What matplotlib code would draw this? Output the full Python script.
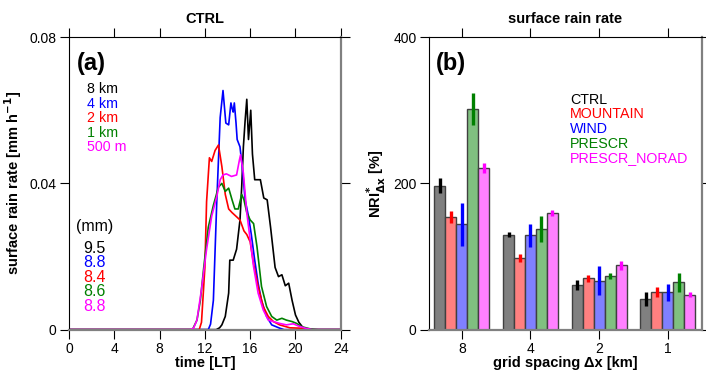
import matplotlib.pyplot as plt
import numpy as np

plt.rcParams['font.family'] = ['Liberation Sans', 'DejaVu Sans']

# ---- panel (a): surface rain rate time series
t_8km = [0, 13.0, 13.3, 13.5, 13.8, 14.1, 14.2, 14.5, 14.8, 15.1, 15.25, 15.4, 15.55, 15.7,
         15.85, 16.05, 16.2, 16.4, 16.9, 17.2, 17.5, 17.8, 18.2, 18.5, 18.8, 19.1, 19.4,
         19.7, 20.0, 20.3, 20.7, 21.5, 24]
r_8km = [0, 0, 0.0005, 0.0013, 0.0036, 0.010, 0.019, 0.019, 0.022, 0.030, 0.039, 0.050, 0.057, 0.063,
         0.052, 0.060, 0.048, 0.041, 0.041, 0.036, 0.0355, 0.028, 0.017, 0.0145, 0.015, 0.012, 0.0127,
         0.008, 0.004, 0.002, 0.0004, 0, 0]

t_4km = [0, 12.3, 12.5, 12.75, 13.05, 13.35, 13.6, 13.85, 14.1, 14.3, 14.4, 14.5, 14.6, 14.75, 14.85,
         15.1, 15.35, 15.55, 15.85, 16.1, 16.4, 16.7, 17.0, 17.45, 17.9, 18.6, 19.0, 24]
r_4km = [0, 0, 0.0015, 0.008, 0.035, 0.058, 0.0654, 0.0565, 0.056, 0.062, 0.0606, 0.0595, 0.062, 0.0565, 0.052,
         0.050, 0.043, 0.0355, 0.031, 0.026, 0.019, 0.0127, 0.008, 0.0036, 0.0013, 0.0004, 0, 0]

t_2km = [0, 11.5, 11.7, 12.0, 12.15, 12.4, 12.6, 12.9, 13.2, 13.5, 13.8, 14.1, 14.4, 14.75, 15.1,
         15.45, 15.7, 16.0, 16.3, 16.7, 17.15, 17.6, 18.05, 18.6, 19.5, 20.4, 21.0, 24]
r_2km = [0, 0, 0.002, 0.017, 0.035, 0.047, 0.046, 0.049, 0.0505, 0.0446, 0.037, 0.033, 0.032, 0.031, 0.030,
         0.027, 0.026, 0.024, 0.018, 0.0118, 0.0063, 0.0036, 0.0022, 0.0013, 0.0005, 0.0004, 0, 0]

t_1km = [0, 10.9, 11.3, 11.6, 11.9, 12.3, 12.75, 13.2, 13.5, 13.8, 14.1, 14.4, 14.65, 14.95, 15.25,
         15.45, 15.7, 16.0, 16.3, 16.6, 17.0, 17.45, 17.9, 18.35, 18.8, 19.2, 19.7, 20.1, 20.55,
         21.3, 22.0, 24]
r_1km = [0, 0, 0.0026, 0.008, 0.017, 0.028, 0.034, 0.039, 0.040, 0.0378, 0.0387, 0.0355, 0.033, 0.033, 0.037,
         0.0355, 0.032, 0.030, 0.029, 0.0227, 0.0118, 0.0063, 0.0036, 0.0026, 0.0031, 0.0026, 0.0022, 0.0017,
         0.0008, 0.0002, 0, 0]

t_500m = [0, 10.7, 11.0, 11.3, 11.7, 12.15, 12.6, 13.05, 13.35, 13.6, 13.9, 14.35, 14.8, 15.05, 15.15,
          15.4, 15.7, 16.0, 16.3, 16.7, 17.15, 17.6, 18.05, 18.6, 19.2, 19.8, 20.25, 20.85, 21.5, 24]
r_500m = [0, 0, 0.0004, 0.0026, 0.011, 0.022, 0.031, 0.0364, 0.041, 0.0423, 0.0426, 0.0419, 0.0423, 0.0464, 0.0478,
          0.0428, 0.032, 0.0245, 0.0172, 0.010, 0.0054, 0.0026, 0.0022, 0.0017, 0.0013, 0.0016, 0.001, 0.0004, 0, 0]

res_labels = ['8 km', '4 km', '2 km', '1 km', '500 m']
res_colors = ['black', 'blue', 'red', 'green', 'magenta']
totals = ['9.5', '8.8', '8.4', '8.6', '8.8']

# ---- panel (b): NRI* bars
spacing = ['8', '4', '2', '1']
exps = ['CTRL', 'MOUNTAIN', 'WIND', 'PRESCR', 'PRESCR_NORAD']
nri = {
    'CTRL':         [197, 130, 61, 42],
    'MOUNTAIN':     [154, 98, 70, 51],
    'WIND':         [144, 129, 67, 51],
    'PRESCR':       [302, 138, 73, 65],
    'PRESCR_NORAD': [221, 159, 88, 48],
}
nri_err = {
    'CTRL':         [10, 4, 7, 10],
    'MOUNTAIN':     [8, 6, 5, 7],
    'WIND':         [29, 16, 20, 12],
    'PRESCR':       [22, 18, 4, 13],
    'PRESCR_NORAD': [7, 4, 6, 3],
}
bar_colors = ['#808080', '#ff8080', '#8080ff', '#80c080', '#ff80ff']
err_colors = ['black', 'red', 'blue', 'green', 'magenta']

fig = plt.figure(figsize=(7.06, 3.75), dpi=100)
ax = fig.add_axes([0.0977, 0.121, 0.385, 0.78])
ax2 = fig.add_axes([0.6076, 0.121, 0.3867, 0.78])


def style(a):
    a.tick_params(direction='out', length=6.5, width=0.8, labelsize=10,
                  top=True, right=True, pad=2.5)
    a.spines['bottom'].set_color('#808080')
    a.spines['right'].set_color('#808080')
    a.spines['right'].set_linewidth(1.6)
    a.spines['bottom'].set_linewidth(1.6)


series = [(t_8km, r_8km), (t_4km, r_4km), (t_2km, r_2km), (t_1km, r_1km), (t_500m, r_500m)]
for (t, r), c in zip(series, res_colors):
    ax.plot(t, r, color=c, lw=1.2)
ax.set_xlim(0, 24)
ax.set_ylim(0, 0.08)
ax.set_xticks(range(0, 25, 4))
ax.set_yticks([0, 0.04, 0.08])
ax.set_yticklabels(['0', '0.04', '0.08'])
style(ax)
ax.set_title('CTRL', fontsize=10.5, fontweight='bold', pad=10)
ax.set_xlabel('time [LT]', fontsize=10.5, fontweight='bold', labelpad=0)
ax.set_ylabel('surface rain rate [mm h$^{\\mathbf{-1}}$]', fontsize=10.5, fontweight='bold', labelpad=4)
ax.text(0.03, 0.95, '(a)', transform=ax.transAxes, fontsize=17, fontweight='bold', va='top')
for i, (lab, c) in enumerate(zip(res_labels, res_colors)):
    ax.text(0.066, 0.823 - i * 0.05, lab, transform=ax.transAxes, color=c, fontsize=10.3, va='center')
ax.text(0.026, 0.351, '(mm)', transform=ax.transAxes, fontsize=11.5, va='center')
for i, (v, c) in enumerate(zip(totals, res_colors)):
    ax.text(0.052, 0.279 - i * 0.05, v, transform=ax.transAxes, color=c, fontsize=11.5, va='center')

x = np.arange(len(spacing))
w = 0.16
for j, (e, bc, ec) in enumerate(zip(exps, bar_colors, err_colors)):
    xp = x + (j - 2) * w
    ax2.bar(xp, nri[e], width=w, color=bc, edgecolor='#404040', linewidth=1)
    ax2.errorbar(xp, nri[e], yerr=nri_err[e], fmt='none', ecolor=ec, elinewidth=2.4, capsize=0)
ax2.set_xlim(-0.48, 3.5)
ax2.set_ylim(0, 400)
ax2.set_xticks(x)
ax2.set_xticklabels(spacing)
ax2.set_yticks([0, 200, 400])
style(ax2)
ax2.set_title('surface rain rate', fontsize=10.5, fontweight='bold', pad=10)
ax2.set_xlabel('grid spacing \u0394x [km]', fontsize=10.5, fontweight='bold', labelpad=0)
ax2.set_ylabel('NRI$^{\\mathbf{*}}_{\\mathbf{\\Delta x}}$ [%]', fontsize=10.5, fontweight='bold', labelpad=4)
ax2.text(0.026, 0.95, '(b)', transform=ax2.transAxes, fontsize=17, fontweight='bold', va='top')
for i, (e, c) in enumerate(zip(exps, err_colors)):
    ax2.text(0.516, 0.786 - i * 0.05, e, transform=ax2.transAxes, color=c, fontsize=10.3, va='center')

plt.savefig('out.png', dpi=100)
